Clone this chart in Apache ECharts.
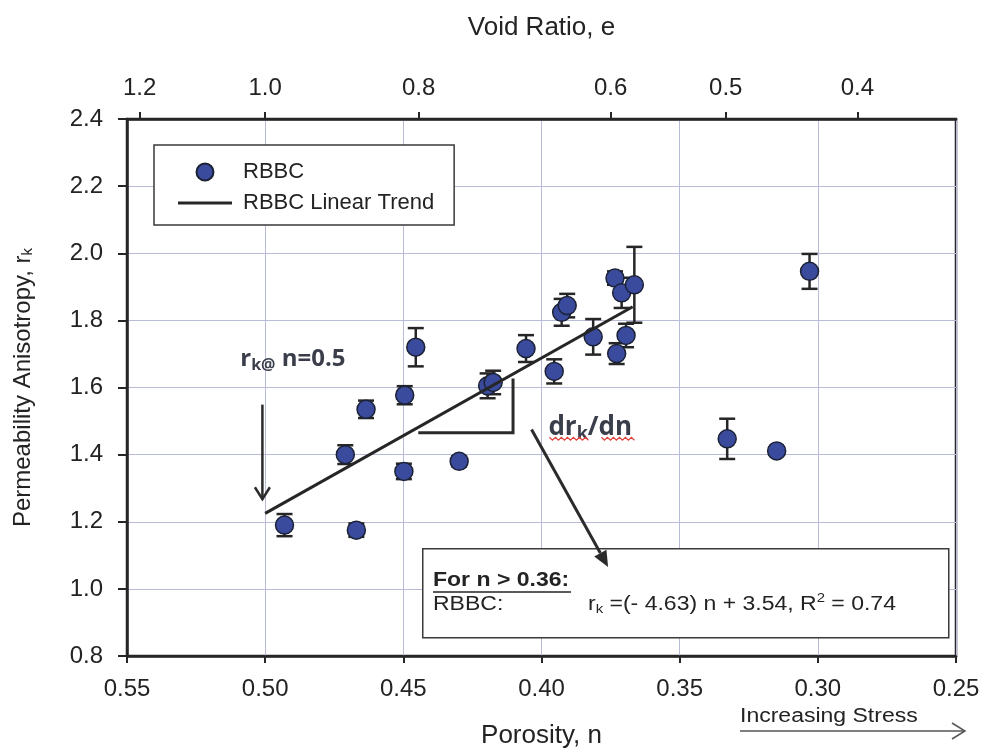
<!DOCTYPE html>
<html>
<head>
<meta charset="utf-8">
<script src="https://cdn.jsdelivr.net/npm/echarts@6/dist/echarts.min.js"></script>
<style>
  html, body { margin: 0; padding: 0; background: #fff; }
  #chart { width: 987px; height: 754px; }
</style>
</head>
<body>
<div id="chart"></div>
<script>
// RBBC specimens: porosity n, permeability anisotropy r_k and its +/- spread
const porosity = [0.493, 0.467, 0.471, 0.4635, 0.4495, 0.4455, 0.4498, 0.4298, 0.4195, 0.4175,
                  0.4056, 0.3954, 0.3927, 0.3907, 0.3813, 0.3734, 0.3710, 0.3664, 0.3694, 0.3728,
                  0.3328, 0.3149, 0.3030];
const anisotropy = [1.19, 1.175, 1.40, 1.535, 1.577, 1.72, 1.35, 1.38, 1.605, 1.615,
                    1.716, 1.648, 1.824, 1.844, 1.751, 1.926, 1.882, 1.906, 1.755, 1.701,
                    1.447, 1.411, 1.946];
const anisotropyError = [0.033, 0.02, 0.028, 0.026, 0.027, 0.057, 0.023, 0.015, 0.037, 0.035,
                         0.04, 0.036, 0.04, 0.035, 0.053, 0.02, 0.045, 0.113, 0.035, 0.031,
                         0.06, 0.01, 0.052];

// Linear trend for n > 0.36: r_k = -4.63 n + 3.54
const trendSlope = -4.63;
const trendIntercept = 3.54;
const trendSpan = [0.50, 0.367];

// Axis ticks
const porosityTicks = [0.55, 0.50, 0.45, 0.40, 0.35, 0.30, 0.25];
const anisotropyTicks = [0.8, 1.0, 1.2, 1.4, 1.6, 1.8, 2.0, 2.2, 2.4];
const voidRatioTicks = [1.2, 1.0, 0.8, 0.6, 0.5, 0.4];

const FONT = '"Liberation Sans", Arial, sans-serif';
const NOTE_FONT = '"Open Sans", Lato, sans-serif';
const INK = '#232323';
const NOTE_INK = '#3a3e4a';
const GRID_COLOR = '#b7bbd8';

const points = porosity.map((n, i) => [n, anisotropy[i]]);
const errorBars = porosity.map((n, i) => [n, anisotropy[i], anisotropyError[i]]);
const trendLine = trendSpan.map(n => [n, trendSlope * n + trendIntercept]);
// porosity position of each void-ratio tick: n = e / (1 + e)
const voidRatioAtPorosity = voidRatioTicks.map(e => e / (1 + e));

function drawErrorBar(params, api) {
  const n = api.value(0), r = api.value(1), d = api.value(2);
  const top = api.coord([n, r + d]);
  const bot = api.coord([n, r - d]);
  const cap = 8;
  const style = { stroke: '#262626', lineWidth: 2.5 };
  return {
    type: 'group',
    children: [
      { type: 'line', shape: { x1: top[0], y1: top[1], x2: bot[0], y2: bot[1] }, style },
      { type: 'line', shape: { x1: top[0] - cap, y1: top[1], x2: top[0] + cap, y2: top[1] }, style },
      { type: 'line', shape: { x1: bot[0] - cap, y1: bot[1], x2: bot[0] + cap, y2: bot[1] }, style }
    ]
  };
}

function wavy(x0, x1, y) {
  const pts = [];
  let up = true;
  for (let x = x0; x <= x1; x += 3) { pts.push([x, y + (up ? -1.5 : 1.5)]); up = !up; }
  return pts;
}

function noteRich(size, subSize) {
  return {
    b: { fontFamily: NOTE_FONT, fontWeight: 'bold', fontSize: size, fill: NOTE_INK, lineHeight: size + 4 },
    s: { fontFamily: NOTE_FONT, fontWeight: 'bold', fontSize: subSize, fill: NOTE_INK, verticalAlign: 'bottom',
         lineHeight: subSize + 6, padding: [10, 0, 0, 0] }
  };
}

function drawNotes(params, api) {
  const p = (n, r) => api.coord([n, r]);
  const lineStyle = { stroke: '#2b2b2b', lineWidth: 3, fill: null };
  const children = [];

  // slope triangle under the trend line
  children.push({ type: 'polyline', shape: { points: [p(0.4446, 1.465), p(0.4103, 1.465), p(0.4103, 1.627)] }, style: lineStyle });

  // arrow pointing at r_k for n = 0.5
  const a0 = p(0.501, 1.549), a1 = p(0.501, 1.267);
  children.push({ type: 'line', shape: { x1: a0[0], y1: a0[1], x2: a1[0], y2: a1[1] }, style: { stroke: '#2b2b2b', lineWidth: 2.5 } });
  children.push({ type: 'polyline', shape: { points: [[a1[0] - 7.5, a1[1] - 12], a1, [a1[0] + 7.5, a1[1] - 12]] }, style: { stroke: '#2b2b2b', lineWidth: 2.5, fill: null } });

  // arrow from the slope label to the fitted equation
  const b0 = p(0.4036, 1.475), b1 = p(0.3759, 1.065);
  const dx = b1[0] - b0[0], dy = b1[1] - b0[1];
  const len = Math.hypot(dx, dy), ux = dx / len, uy = dy / len;
  const hl = 16, hw = 7;
  const base = [b1[0] - ux * hl, b1[1] - uy * hl];
  children.push({ type: 'line', shape: { x1: b0[0], y1: b0[1], x2: base[0], y2: base[1] }, style: { stroke: '#2b2b2b', lineWidth: 3 } });
  children.push({ type: 'polygon', shape: { points: [b1, [base[0] - uy * hw, base[1] + ux * hw], [base[0] + uy * hw, base[1] - ux * hw]] }, style: { fill: '#2b2b2b' } });

  // label: r_k @ n = 0.5
  const t1 = p(0.509, 1.683);
  children.push({
    type: 'text', x: t1[0], y: t1[1],
    style: { text: '{b|r}{s|k@}{b| n=0.5}', verticalAlign: 'middle', rich: noteRich(24, 16) }
  });

  // label: dr_k / dn
  const t2 = p(0.3975, 1.48);
  children.push({
    type: 'text', x: t2[0], y: t2[1],
    style: { text: '{b|dr}{s|k}{b|/dn}', verticalAlign: 'middle', rich: noteRich(26, 18) }
  });
  // spell-check squiggles under the label
  const sy = t2[1] + 11;
  children.push({ type: 'polyline', shape: { points: wavy(t2[0] + 1, t2[0] + 40, sy) }, style: { stroke: '#e0413a', lineWidth: 1.2, fill: null } });
  children.push({ type: 'polyline', shape: { points: wavy(t2[0] + 53, t2[0] + 86, sy) }, style: { stroke: '#e0413a', lineWidth: 1.2, fill: null } });

  return { type: 'group', children };
}

const chart = echarts.init(document.getElementById('chart'), null, { renderer: 'canvas' });

chart.setOption({
  animation: false,
  backgroundColor: '#ffffff',
  textStyle: { fontFamily: FONT },
  grid: { left: 127, right: 31, top: 119, bottom: 97, show: true, borderColor: '#262626', borderWidth: 2.5, backgroundColor: 'transparent' },
  legend: {
    orient: 'vertical', left: 154, top: 145,
    data: [
      { name: 'RBBC', icon: 'circle' },
      { name: 'RBBC Linear Trend', icon: 'path://M0,0H54V3H0Z' }
    ],
    backgroundColor: '#ffffff', borderColor: '#3a3a3a', borderWidth: 1.5,
    padding: [16, 20, 11, 24], itemGap: 9, itemWidth: 54, itemHeight: 17,
    textStyle: { fontFamily: FONT, fontSize: 22, color: INK, padding: [0, 0, 0, 6] }
  },
  xAxis: [
    {
      type: 'value', position: 'bottom', inverse: true,
      min: porosityTicks[porosityTicks.length - 1], max: porosityTicks[0], interval: 0.05,
      name: 'Porosity, n', nameLocation: 'middle', nameGap: 67,
      nameTextStyle: { fontFamily: FONT, fontSize: 26, color: INK },
      axisLine: { lineStyle: { color: '#262626', width: 2.5 } },
      axisTick: { length: 7, lineStyle: { color: '#262626', width: 2 } },
      axisLabel: { fontFamily: FONT, fontSize: 24, color: INK, margin: 21, formatter: v => v.toFixed(2) },
      splitLine: { show: true, lineStyle: { color: GRID_COLOR, width: 1 } }
    },
    {
      type: 'value', position: 'top', inverse: true,
      min: porosityTicks[porosityTicks.length - 1], max: porosityTicks[0],
      name: 'Void Ratio, e', nameLocation: 'middle', nameGap: 78,
      nameTextStyle: { fontFamily: FONT, fontSize: 26, color: INK },
      axisLine: { lineStyle: { color: '#262626', width: 2.5 } },
      axisTick: { customValues: voidRatioAtPorosity, length: 7, lineStyle: { color: '#262626', width: 2 } },
      axisLabel: { customValues: voidRatioAtPorosity, fontFamily: FONT, fontSize: 24, color: INK, margin: 19,
                   formatter: v => (v / (1 - v)).toFixed(1) },
      splitLine: { show: false }
    }
  ],
  yAxis: {
    type: 'value', min: anisotropyTicks[0], max: anisotropyTicks[anisotropyTicks.length - 1], interval: 0.2,
    name: 'Permeability Anisotropy, r{k|k}', nameLocation: 'middle', nameGap: 92, nameRotate: 90,
    nameTextStyle: {
      fontFamily: FONT, fontSize: 24, color: INK,
      rich: { k: { fontFamily: FONT, fontSize: 15, color: INK, verticalAlign: 'bottom', padding: [9, 0, 0, 0] } }
    },
    axisLine: { lineStyle: { color: '#262626', width: 2.5 } },
    axisTick: { length: 9, lineStyle: { color: '#262626', width: 2 } },
    axisLabel: { fontFamily: FONT, fontSize: 24, color: INK, margin: 24, formatter: v => v.toFixed(1) },
    splitLine: { show: true, lineStyle: { color: GRID_COLOR, width: 1 } }
  },
  graphic: [
    // fitted-equation box
    { type: 'rect', left: 422, top: 548, z: 10, shape: { width: 526, height: 89 },
      style: { fill: '#ffffff', stroke: '#3a3a3a', lineWidth: 1.5 } },
    { type: 'text', x: 433, y: 580, z: 11, scaleX: 1.15,
      style: { text: 'For n > 0.36:', fontFamily: FONT, fontSize: 20, fontWeight: 'bold', fill: INK, verticalAlign: 'middle' } },
    { type: 'line', z: 11, shape: { x1: 433, y1: 592, x2: 571, y2: 592 }, style: { stroke: INK, lineWidth: 1.5 } },
    { type: 'text', x: 433, y: 604, z: 11, scaleX: 1.15,
      style: { text: 'RBBC:', fontFamily: FONT, fontSize: 20, fill: INK, verticalAlign: 'middle' } },
    { type: 'text', x: 588, y: 604, z: 11, scaleX: 1.15,
      style: {
        text: '{t|r}{s|k}{t| =(- 4.63) n + 3.54, R}{p|2}{t| = 0.74}',
        verticalAlign: 'middle',
        rich: {
          t: { fontFamily: FONT, fontSize: 20, fill: INK, lineHeight: 24 },
          s: { fontFamily: FONT, fontSize: 13, fill: INK, verticalAlign: 'bottom', lineHeight: 16, padding: [9, 0, 0, 0] },
          p: { fontFamily: FONT, fontSize: 13, fill: INK, verticalAlign: 'top', lineHeight: 16, padding: [0, 0, 9, 0] }
        }
      } },
    // increasing-stress arrow under the porosity axis
    { type: 'text', x: 740, y: 716, scaleX: 1.15,
      style: { text: 'Increasing Stress', fontFamily: FONT, fontSize: 20, fill: INK, verticalAlign: 'middle' } },
    { type: 'line', shape: { x1: 740, y1: 731, x2: 965, y2: 731 }, style: { stroke: '#555', lineWidth: 1.5 } },
    { type: 'polyline', shape: { points: [[952, 723], [965, 731], [952, 739]] }, style: { stroke: '#555', lineWidth: 1.5, fill: null } }
  ],
  series: [
    {
      name: 'RBBC error', type: 'custom', xAxisIndex: 0, yAxisIndex: 0, z: 2,
      renderItem: drawErrorBar, data: errorBars, encode: { x: 0, y: 1 }, silent: true
    },
    {
      name: 'RBBC Linear Trend', type: 'line', xAxisIndex: 0, yAxisIndex: 0, z: 4,
      data: trendLine, symbol: 'none', lineStyle: { color: '#262626', width: 3 }, itemStyle: { color: '#262626' }
    },
    {
      name: 'RBBC', type: 'scatter', xAxisIndex: 0, yAxisIndex: 0, z: 3,
      data: points, symbol: 'circle', symbolSize: 18,
      itemStyle: { color: '#3a4a9c', borderColor: '#1c2235', borderWidth: 1.5, opacity: 1 }
    },
    {
      name: 'notes', type: 'custom', xAxisIndex: 0, yAxisIndex: 0, z: 20, clip: false, silent: true,
      renderItem: drawNotes, data: [[0.45, 1.5]], encode: { x: 0, y: 1 }
    }
  ]
});
</script>
</body>
</html>
